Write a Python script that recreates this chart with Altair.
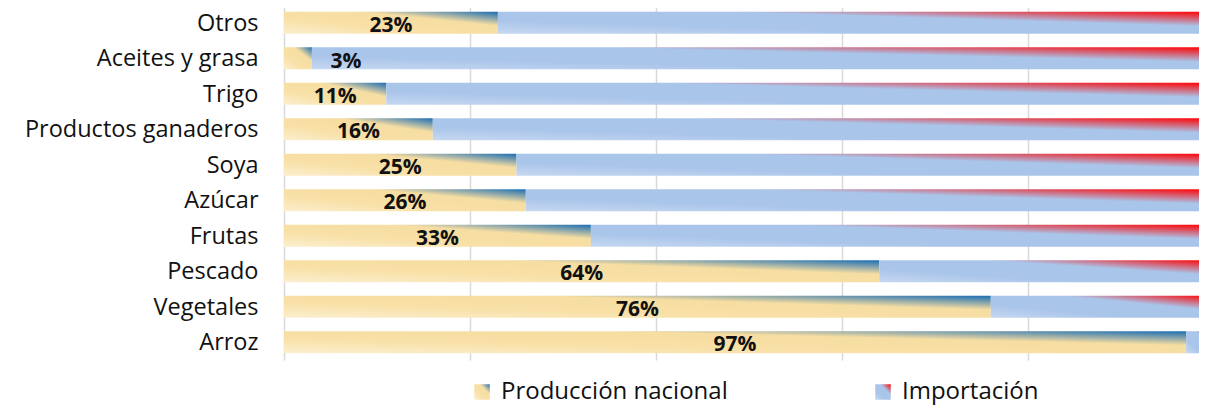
import altair as alt
import pandas as pd

categories = ["Otros", "Aceites y grasa", "Trigo", "Productos ganaderos", "Soya",
              "Azúcar", "Frutas", "Pescado", "Vegetales", "Arroz"]
produccion = [23, 3, 11, 16, 25, 26, 33, 64, 76, 97]
importacion = [77, 97, 89, 84, 75, 74, 67, 36, 24, 3]
series = ["Producción nacional", "Importación"]
x_ticks = [0, 20, 40, 60, 80, 100]
title_text = "(en %)"

rows = []
for c, p, m in zip(categories, produccion, importacion):
    rows.append({"cat": c, "series": series[0], "start": 0, "end": p})
    rows.append({"cat": c, "series": series[1], "start": p, "end": p + m})
df = pd.DataFrame(rows)
lab = pd.DataFrame({"cat": categories, "prod": produccion})

FONT = "Open Sans"

prod_grad = ("{gradient: 'linear', x1: 0, y1: 1, x2: 1, y2: 0, stops: ["
             "{offset: 0, color: '#FCEFCF'}, {offset: 0.35, color: '#F8E0A6'}, "
             "{offset: 0.68, color: '#F6DDA2'}, {offset: 1, color: '#1A6DB4'}]}")
imp_grad = ("{gradient: 'linear', x1: 0, y1: 1, x2: 1, y2: 0, stops: ["
            "{offset: 0, color: '#C6D8F1'}, {offset: 0.3, color: '#AAC5EA'}, "
            "{offset: 0.66, color: '#AAC5EA'}, {offset: 1, color: '#FF0000'}]}")

y_enc = alt.Y("cat:N", sort=categories,
              scale=alt.Scale(paddingInner=0.38, paddingOuter=0.19),
              axis=alt.Axis(title=None, ticks=False, tickSize=0, domain=False,
                            labelFontSize=23.5, labelFont=FONT, labelColor="#111111",
                            labelPadding=26, labelLimit=400, labelOffset=1))

x_scale = alt.Scale(domain=[0, 100], nice=False)

bars = alt.Chart(df).mark_bar().encode(
    x=alt.X("start:Q", scale=x_scale,
            axis=alt.Axis(values=x_ticks, labels=False, ticks=False, domain=False,
                          grid=True, gridColor="#D9D9D9", gridWidth=1.5, title=None)),
    x2="end:Q",
    y=y_enc,
    color=alt.Color("series:N",
                    scale=alt.Scale(domain=series,
                                    range=[alt.ExprRef(expr=prod_grad),
                                           alt.ExprRef(expr=imp_grad)]),
                    legend=alt.Legend(title=None, orient="none", legendX=186, legendY=375,
                                      direction="horizontal", symbolType="square",
                                      symbolSize=240, labelFontSize=24, labelFont=FONT,
                                      labelColor="#111111", labelOffset=7,
                                      columnPadding=143, padding=0, labelLimit=400,
                                      symbolStrokeWidth=0)),
)

labels = alt.Chart(lab).transform_filter(
    alt.datum.cat != "Aceites y grasa"
).transform_calculate(
    mid="datum.prod / 2", txt="datum.prod + '%'"
).mark_text(font=FONT, fontSize=21, fontWeight="bold", color="#111111", dy=3).encode(
    x=alt.X("mid:Q", scale=x_scale), y=alt.Y("cat:N", sort=categories), text="txt:N"
)

label_small = alt.Chart(lab).transform_filter(
    alt.datum.cat == "Aceites y grasa"
).transform_calculate(
    mid="datum.prod / 2", txt="datum.prod + '%'"
).mark_text(font=FONT, fontSize=21, fontWeight="bold", color="#111111", dx=48, dy=4).encode(
    x=alt.X("mid:Q", scale=x_scale), y=alt.Y("cat:N", sort=categories), text="txt:N"
)

title = alt.Chart(pd.DataFrame({"t": [title_text]})).mark_text(
    font=FONT, fontSize=22, color="#111111", baseline="alphabetic"
).encode(x=alt.value(379), y=alt.value(0), text="t:N")

chart = alt.layer(bars, labels, label_small, title).properties(
    width=930, height=355,
    padding={"left": 276, "top": -3, "right": -15, "bottom": 45},
    autosize=alt.AutoSizeParams(type="none"),
).configure_view(strokeWidth=0)

chart.save("out.html", embed_options={"renderer": "svg", "actions": False})
